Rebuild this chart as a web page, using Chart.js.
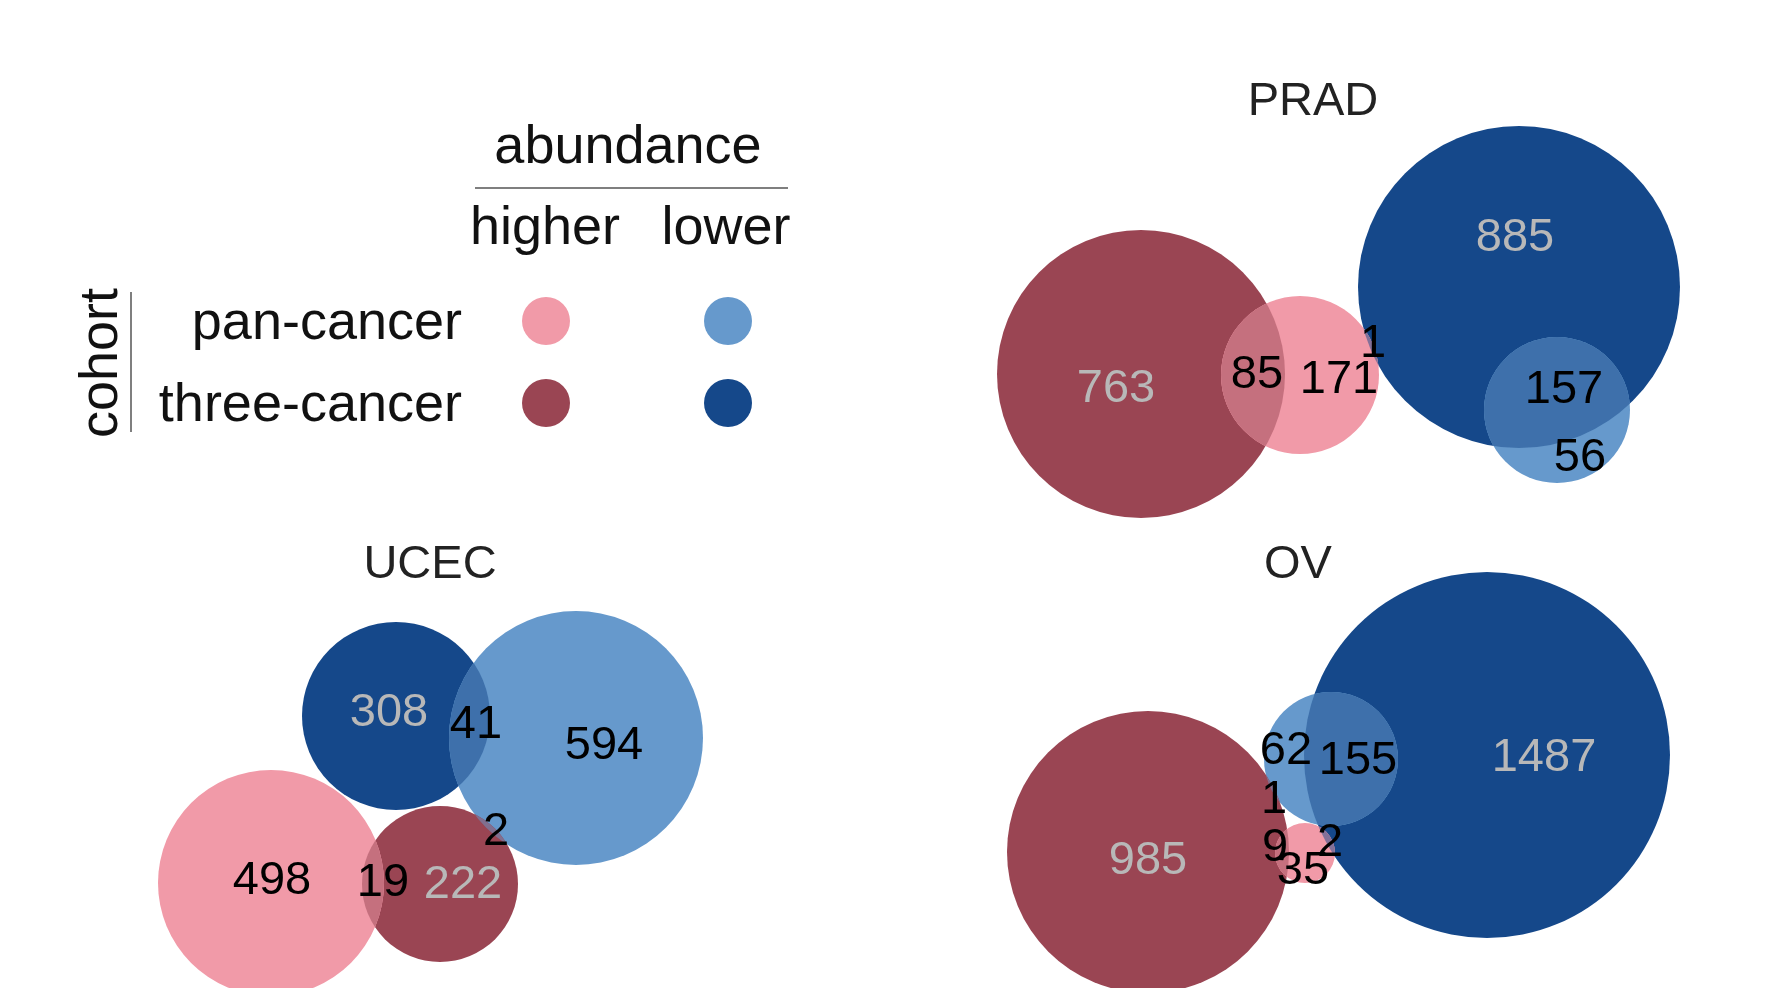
<!DOCTYPE html>
<html>
<head>
<meta charset="utf-8">
<script src="https://cdn.jsdelivr.net/npm/chart.js@4/dist/chart.umd.min.js"></script>
<style>
  html, body { margin: 0; padding: 0; background: #fff; }
  #wrap { width: 1775px; height: 988px; }
</style>
</head>
<body>
<div id="wrap"><canvas id="venn" width="1775" height="988"></canvas></div>
<script>
// panels and sets
const panels = ['PRAD', 'UCEC', 'OV'];
const setNames = ['pan-cancer higher', 'three-cancer higher', 'pan-cancer lower', 'three-cancer lower'];
const setColors = ['#f19aa8', '#9a4553', '#6699cc', '#15488a'];

// region counts per panel
const pradCounts = [763, 85, 171, 1, 885, 157, 56];
const ucecCounts = [308, 41, 594, 2, 498, 19, 222];
const ovCounts = [985, 62, 155, 1, 9, 2, 35, 1487];
// counts sitting on a dark fill get the grey label
const pradGrey = [true, false, false, false, true, false, false];
const ucecGrey = [true, false, false, false, false, false, true];
const ovGrey = [true, false, false, false, false, false, false, true];

// euler layout (plot units), one [x, y, r] per panel, in panel order
const panHigherLayout = [[1300, 375, 79], [271, 883, 113], [1305, 853, 30]];
const threeHigherLayout = [[1141, 374, 144], [440, 884, 78], [1148, 852, 141]];
const panLowerLayout = [[1557, 410, 73], [576, 738, 127], [1331, 759, 67]];
const threeLowerLayout = [[1519, 287, 161], [396, 716, 94], [1487, 755, 183]];
const layouts = [panHigherLayout, threeHigherLayout, panLowerLayout, threeLowerLayout];

// label anchors for the counts
const pradLabelPos = [[1116, 389], [1257, 375], [1339, 380], [1373, 344], [1515, 238], [1564, 390], [1580, 458]];
const ucecLabelPos = [[389, 713], [476, 725], [604, 746], [496, 832], [272, 881], [383, 883], [463, 885]];
const ovLabelPos = [[1148, 861], [1286, 751], [1358, 761], [1274, 800], [1275, 848], [1330, 843], [1303, 871], [1544, 758]];
const titlePos = [[1313, 102], [430, 565], [1298, 565]];

const panelLabels = [
    { counts: pradCounts, grey: pradGrey, pos: pradLabelPos },
    { counts: ucecCounts, grey: ucecGrey, pos: ucecLabelPos },
    { counts: ovCounts, grey: ovGrey, pos: ovLabelPos }
];

const FONT = '"Liberation Sans", Arial, Helvetica, sans-serif';

function hexToRgba(hex, a) {
    const n = parseInt(hex.slice(1), 16);
    return `rgba(${(n >> 16) & 255},${(n >> 8) & 255},${n & 255},${a})`;
}

// intersections get the mix of both fills, like eulerr
const overlapPlugin = {
    id: 'overlap',
    afterDatasetsDraw(chart) {
        const ctx = chart.ctx;
        const metas = chart.data.datasets.map((d, i) => chart.getDatasetMeta(i));
        panels.forEach((p, k) => {
            for (let i = 0; i < metas.length; i++) {
                for (let j = i + 1; j < metas.length; j++) {
                    const a = metas[i].data[k], b = metas[j].data[k];
                    const ra = a.options.radius, rb = b.options.radius;
                    if (Math.hypot(a.x - b.x, a.y - b.y) >= ra + rb) continue;
                    ctx.save();
                    ctx.beginPath(); ctx.arc(a.x, a.y, ra, 0, Math.PI * 2); ctx.clip();
                    ctx.beginPath(); ctx.arc(b.x, b.y, rb, 0, Math.PI * 2); ctx.clip();
                    ctx.fillStyle = setColors[i];
                    ctx.fillRect(0, 0, chart.width, chart.height);
                    ctx.fillStyle = hexToRgba(setColors[j], 0.5);
                    ctx.fillRect(0, 0, chart.width, chart.height);
                    ctx.restore();
                }
            }
        });
    }
};

const labelPlugin = {
    id: 'labels',
    afterDraw(chart) {
        const ctx = chart.ctx;
        const sx = chart.scales.x, sy = chart.scales.y;
        ctx.save();
        ctx.textAlign = 'center';
        ctx.textBaseline = 'middle';

        // panel titles
        ctx.fillStyle = '#222';
        ctx.font = `47px ${FONT}`;
        panels.forEach((p, k) => {
            ctx.fillText(p, sx.getPixelForValue(titlePos[k][0]), sy.getPixelForValue(titlePos[k][1]));
        });

        // counts
        ctx.font = `47px ${FONT}`;
        panelLabels.forEach(pl => {
            pl.counts.forEach((c, i) => {
                ctx.fillStyle = pl.grey[i] ? '#b8b8b8' : '#000';
                ctx.fillText(String(c), sx.getPixelForValue(pl.pos[i][0]), sy.getPixelForValue(pl.pos[i][1]));
            });
        });

        // legend
        ctx.fillStyle = '#111';
        ctx.font = `54px ${FONT}`;
        ctx.textBaseline = 'alphabetic';
        ctx.fillText('abundance', 628, 163);
        ctx.fillText('higher', 545, 244);
        ctx.fillText('lower', 726, 244);
        ctx.textAlign = 'right';
        ctx.fillText('pan-cancer', 462, 339);
        ctx.fillText('three-cancer', 462, 421);

        ctx.strokeStyle = '#555';
        ctx.lineWidth = 1.5;
        ctx.beginPath(); ctx.moveTo(475, 188); ctx.lineTo(788, 188); ctx.stroke();
        ctx.beginPath(); ctx.moveTo(131, 292); ctx.lineTo(131, 432); ctx.stroke();

        ctx.save();
        ctx.translate(117, 363);
        ctx.rotate(-Math.PI / 2);
        ctx.textAlign = 'center';
        ctx.fillText('cohort', 0, 0);
        ctx.restore();

        const dots = [[546, 321, 0], [728, 321, 2], [546, 403, 1], [728, 403, 3]];
        dots.forEach(([x, y, s]) => {
            ctx.fillStyle = setColors[s];
            ctx.beginPath(); ctx.arc(x, y, 24, 0, Math.PI * 2); ctx.fill();
        });
        ctx.restore();
    }
};

const ctx = document.getElementById('venn').getContext('2d');
new Chart(ctx, {
    type: 'bubble',
    data: {
        datasets: setNames.map((name, s) => ({
            label: name,
            data: layouts[s].map(c => ({ x: c[0], y: c[1], r: c[2] })),
            backgroundColor: setColors[s],
            borderWidth: 0,
            hoverBorderWidth: 0
        }))
    },
    options: {
        responsive: false,
        animation: false,
        devicePixelRatio: 1,
        layout: { padding: 0, autoPadding: false },
        scales: {
            x: { type: 'linear', min: 0, max: 1775, display: false },
            y: { type: 'linear', min: 0, max: 988, reverse: true, display: false }
        },
        plugins: {
            legend: { display: false },
            tooltip: { enabled: false }
        },
        events: []
    },
    plugins: [overlapPlugin, labelPlugin]
});
</script>
</body>
</html>
